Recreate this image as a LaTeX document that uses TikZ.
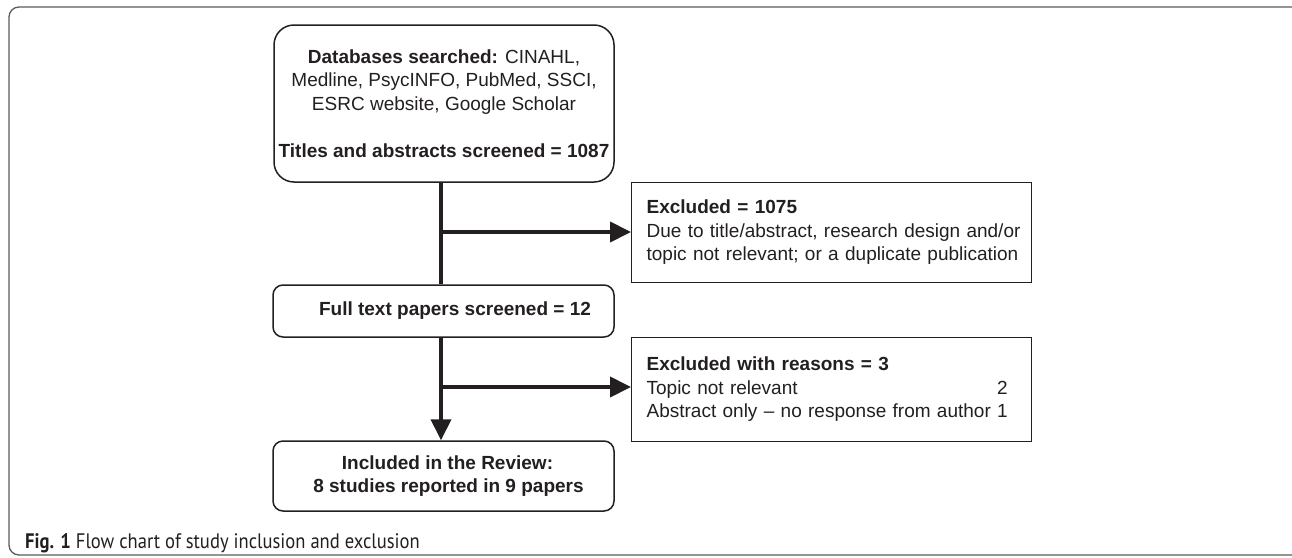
\documentclass[tikz,border=0pt]{standalone}
\usepackage{fontspec}
\setmainfont{Liberation Sans}
\newfontfamily\capfont{PT Sans}
\usetikzlibrary{arrows.meta}
\definecolor{ink}{HTML}{231F20}
\definecolor{framegray}{HTML}{5A5B5D}
\begin{document}
\begin{tikzpicture}[x=1pt,y=-1pt,
  txt/.style={font=\fontsize{19}{23.5}\selectfont, text=ink},
  rbox/.style={draw=ink, line width=1.5pt, rounded corners=10pt, txt, inner sep=0pt, align=center},
  exbox/.style={draw=ink, line width=1.2pt, txt, inner xsep=15pt, inner ysep=0pt, text width=370pt, align=left, minimum height=100pt, anchor=north west},
  conn/.style={draw=ink, line width=4pt},
  arr/.style={conn, -{Triangle[length=21pt,width=20pt]}}
]
\useasboundingbox (0,0) rectangle (1292,557);
\draw[framegray, line width=1.3pt, rounded corners=10pt] (9,7) rectangle (1304,555);

\node[rbox, rounded corners=20pt, minimum width=340pt, minimum height=157pt] (db) at (444,103.5)
  {\textbf{Databases searched:} CINAHL,\\ Medline, PsycINFO, PubMed, SSCI,\\ ESRC website, Google Scholar\\[23.5pt] \textbf{Titles and abstracts screened = 1087}};
\node[rbox, minimum width=341pt, minimum height=52pt, font=\fontsize{19}{23.5}\selectfont\bfseries] (full) at (443.5,311)
  {\hspace*{23pt}Full text papers screened = 12};
\node[rbox, minimum width=341pt, minimum height=70pt, font=\fontsize{19}{23.5}\selectfont\bfseries] (incl) at (443.5,476)
  {\hspace*{8pt}Included in the Review:\\ \hspace*{10pt}8 studies reported in 9 papers};

\node[exbox] (ex1) at (631,182)
  {\begin{tabular}{@{}l@{}}
    \textbf{Excluded = 1075}\\
    Due to title/abstract, research design and/or\\
    topic not relevant; or a duplicate publication
  \end{tabular}};
\node[exbox, minimum height=104pt] (ex2) at (631,337)
  {\begin{tabular}{@{}l@{\ }r@{}}
    \multicolumn{2}{@{}l@{}}{\textbf{Excluded with reasons = 3}}\\
    Topic not relevant & 2\\
    Abstract only – no response from author & 1
  \end{tabular}};

\coordinate (j1) at (441,232);
\coordinate (j2) at (441,387);
\draw[conn] (db.south -| j1) -- (full.north -| j1);
\draw[arr] (j1) -- (j1 -| ex1.west);
\draw[arr] (full.south -| j1) -- (incl.north -| j1);
\draw[arr] (j2) -- (j2 -| ex2.west);

\node[anchor=base west, inner sep=0pt, font=\capfont\fontsize{21}{25}\selectfont, text=ink] (cap) at (25,548)
  {\scalebox{0.885}[1]{\textbf{Fig. 1} Flow chart of study inclusion and exclusion}};
\end{tikzpicture}
\end{document}
